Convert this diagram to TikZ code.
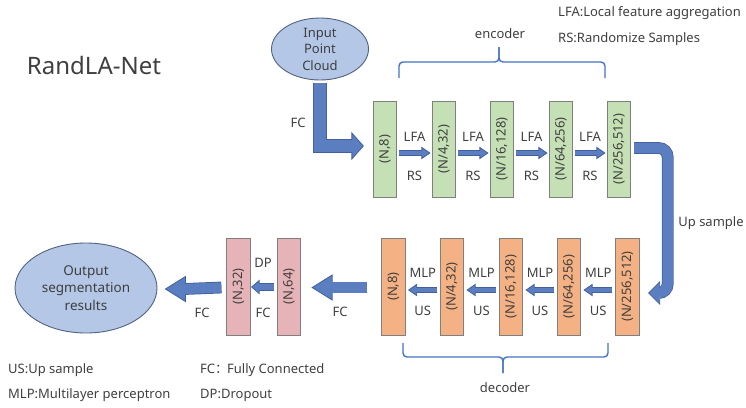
\documentclass[tikz,border=0pt]{standalone}
\usepackage{fontspec}
\setmainfont{Noto Sans}
\newfontfamily\cjk{Noto Sans CJK SC}
\usetikzlibrary{calc,shapes.geometric}
\definecolor{txt}{HTML}{3F3F3F}
\definecolor{encfill}{HTML}{C5E0B4}
\definecolor{decfill}{HTML}{F4B183}
\definecolor{fcfill}{HTML}{E6B4B8}
\definecolor{boxedge}{HTML}{7F7F7F}
\definecolor{arrfill}{HTML}{5B7EC0}
\definecolor{arredge}{HTML}{41609C}
\definecolor{ellfill}{HTML}{B4C7E7}
\definecolor{elledge}{HTML}{52637F}
\definecolor{bracecol}{HTML}{4472C4}
% arrow head: #1 tip, #2 direction (1 right, -1 left), #3 half bar, #4 half head, #5 head length
\newcommand\headat[5]{%
  \filldraw[fill=arrfill,draw=arredge,line width=0.8pt,line join=miter]
    ($#1+({-(#2)*#5},-#3)$) -- ($#1+({-(#2)*#5},-#4)$) -- #1
    -- ($#1+({-(#2)*#5},#4)$) -- ($#1+({-(#2)*#5},#3)$);}
% fat bar along a path: #1 options, #2 half bar, #3 path
\newcommand\fatbar[3]{%
  \draw[line width={(2*#2+0.8)*1pt},draw=arredge,#1] #3;
  \draw[line width={(2*#2-0.8)*1pt},draw=arrfill,#1] #3;}
% straight horizontal block arrow: #1 start, #2 tip, #3 dir, #4 half bar, #5 half head, #6 head length
\newcommand\fatarrow[6]{%
  \fatbar{}{#4}{#1 -- ($#2+({-(#3)*(#6-1)},0)$)}%
  \headat{#2}{#3}{#4}{#5}{#6}}
\begin{document}
\begin{tikzpicture}[x=1pt,y=-1pt,
  lbl/.style={font=\fontsize{13}{15}\selectfont, text=txt, inner sep=0pt},
  legend/.style={lbl, anchor=west},
  layer/.style={draw=boxedge, line width=0.8pt, minimum width=23.5pt, minimum height=96pt,
    inner sep=0pt, font=\fontsize{13}{15}\selectfont, text=txt},
  enc/.style={layer, fill=encfill},
  dec/.style={layer, fill=decfill, minimum height=97pt},
  fcl/.style={layer, fill=fcfill, minimum height=97pt},
  cloud/.style={ellipse, draw=elledge, line width=0.9pt, fill=ellfill, inner sep=0pt, align=center, text=txt},
  bracket/.style={draw=bracecol, line width=1.4pt, rounded corners=4pt}
]
\useasboundingbox (0,0) rectangle (746,407);

% title and legends
\node[lbl, font=\fontsize{24}{28}\selectfont] (title) at (94,65) {RandLA-Net};
\node[legend] (lg1) at (558,13) {LFA:Local feature aggregation};
\node[legend] (lg2) at (558,39) {RS:Randomize Samples};
\node[legend] (lg3) at (8,370) {US:Up sample};
\node[legend] (lg4) at (8,395) {MLP:Multilayer perceptron};
\node[legend] (lg5) at (200,370) {FC{\cjk ：}\hspace{-1pt}Fully Connected};
\node[legend] (lg6) at (200,395) {DP:Dropout};

% input / output
\node[cloud, minimum width=97pt, minimum height=62pt, font=\fontsize{13}{16.5}\selectfont] (in) at (320,49) {Input\\Point\\Cloud};
\node[cloud, minimum width=142pt, minimum height=90pt, font=\fontsize{13.5}{17.5}\selectfont] (out) at (86,288) {Output\\segmentation\\results};

% encoder
\node[enc] (e1) at (385,149) {\rotatebox{90}{(N,8)}};
\node[enc] (e2) at (444,149) {\rotatebox{90}{(N/4,32)}};
\node[enc] (e3) at (502,149) {\rotatebox{90}{(N/16,128)}};
\node[enc] (e4) at (561,149) {\rotatebox{90}{(N/64,256)}};
\node[enc] (e5) at (619,149) {\rotatebox{90}{(N/256,512)}};

% decoder
\node[dec] (d1) at (393.5,286.5) {\rotatebox{90}{(N,8)}};
\node[dec] (d2) at (452,286.5) {\rotatebox{90}{(N/4,32)}};
\node[dec] (d3) at (511,286.5) {\rotatebox{90}{(N/16,128)}};
\node[dec] (d4) at (569,286.5) {\rotatebox{90}{(N/64,256)}};
\node[dec] (d5) at (627.5,286.5) {\rotatebox{90}{(N/256,512)}};

% fully connected layers
\node[fcl] (p1) at (238.5,286.5) {\rotatebox{90}{(N,32)}};
\node[fcl] (p2) at (289,286.5) {\rotatebox{90}{(N,64)}};

% encoder arrows
\foreach \a/\b in {e1/e2,e2/e3,e3/e4,e4/e5}{
  \fatarrow{($(\a.east)+(2,4)$)}{($(\b.west)+(-2,4)$)}{1}{2.5}{5.5}{8}
  \node[lbl] at ($(\a.east)!0.5!(\b.west)+(0,-12)$) {LFA};
  \node[lbl] at ($(\a.east)!0.5!(\b.west)+(0,27)$) {RS};
}
% decoder arrows
\foreach \a/\b in {d5/d4,d4/d3,d3/d2,d2/d1}{
  \fatarrow{($(\a.west)+(-3,3.5)$)}{($(\b.east)+(3,3.5)$)}{-1}{2.5}{5.5}{8}
  \node[lbl] at ($(\a.west)!0.5!(\b.east)+(0,-13.5)$) {MLP};
  \node[lbl] at ($(\a.west)!0.5!(\b.east)+(0,24.5)$) {US};
}

% input FC elbow arrow
\fatbar{line join=miter}{6.5}{($(in.south)+(0,3)$) |- ($(e1.west)+(-20,-3)$)}
\headat{($(e1.west)+(-9.5,-3)$)}{1}{6.5}{13}{11.5}
\node[lbl] (fc0) at (298,123) {FC};

% up sample arrow
\fatbar{rounded corners=9pt}{5.5}{($(e5.east)+(3,-1)$) -| ($(d5.east)+(28,6.5)$) -- ($(d5.east)+(19,6.5)$)}
\headat{($(d5.east)+(9,6.5)$)}{-1}{5.5}{11}{11}
\node[lbl] (ups) at (711,223) {Up sample};

% decoder -> FC -> output
\fatarrow{($(d1.west)+(-14,1)$)}{($(p2.east)+(11,1)$)}{-1}{5.5}{12.5}{20}
\node[lbl] (fc1) at (340,312) {FC};
\fatarrow{($(p2.west)+(-3,0.5)$)}{($(p1.east)+(1,0.5)$)}{-1}{3.5}{6.5}{7.5}
\node[lbl] (dp) at (263,263) {DP};
\node[lbl] (fc2) at (263,313) {FC};
\fatarrow{($(p1.west)+(-5,1)$)}{($(out.east)+(8,1)$)}{-1}{5.5}{12.5}{20}
\node[lbl] (fc3) at (202,313) {FC};

% braces
\draw[bracket] (399,78) -- (399,62) -- (499,62) -- (499,47);
\draw[bracket] (605,78) -- (605,62) -- (499,62) -- (499,47);
\node[lbl] (encl) at (500,34) {encoder};
\draw[bracket] (403,343) -- (403,357) -- (503,357) -- (503,373);
\draw[bracket] (608,343) -- (608,357) -- (503,357) -- (503,373);
\node[lbl] (decl) at (505,388) {decoder};
\end{tikzpicture}
\end{document}
